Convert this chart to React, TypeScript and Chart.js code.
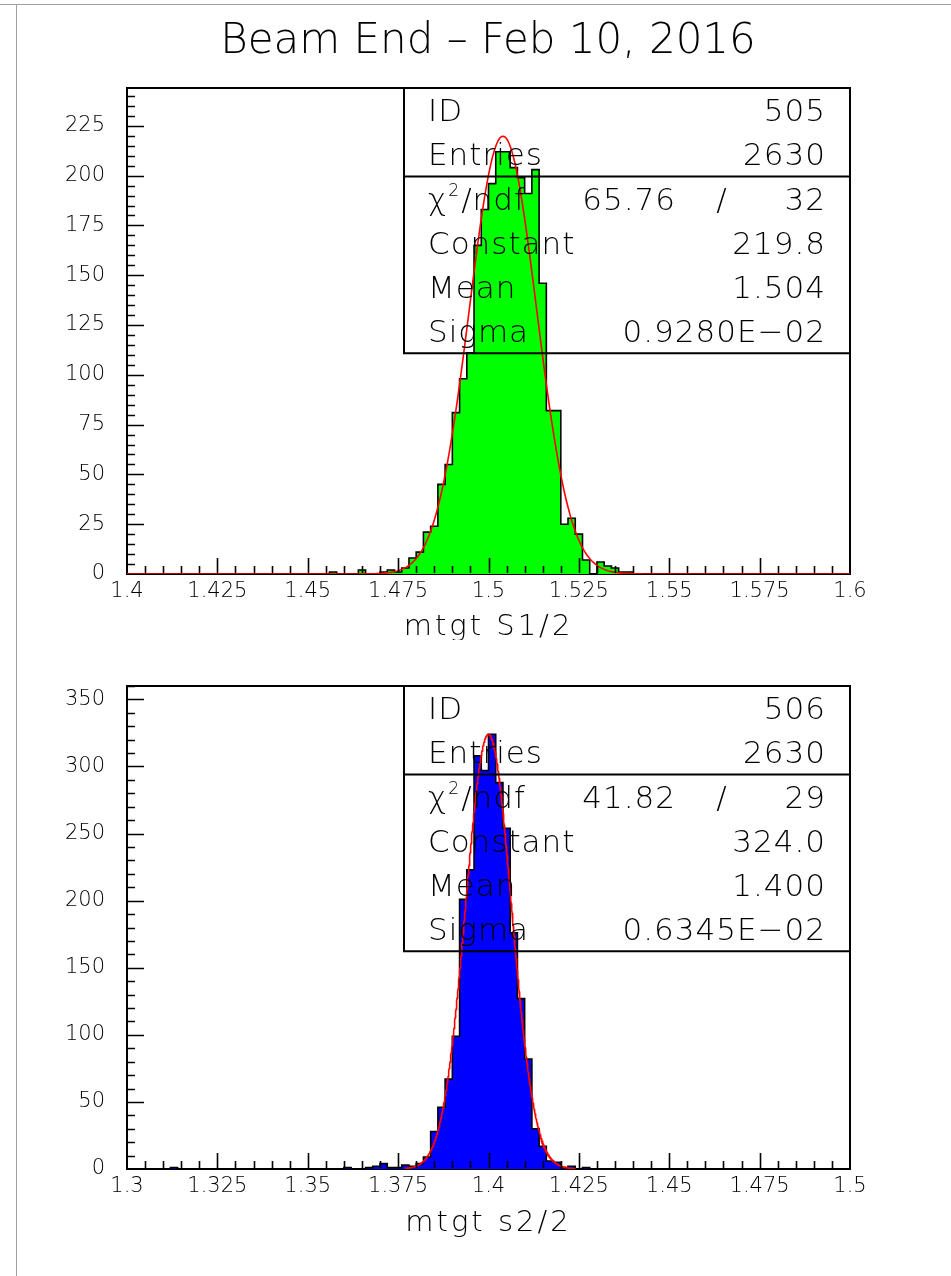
import React, { useEffect, useRef } from 'react';
import { Chart, registerables } from 'chart.js';

Chart.register(...registerables);

const PAGE_W = 951;
const FONT_FAMILY = "'DejaVu Sans'";
const pageTitle = 'Beam End – Feb 10, 2016';

// ---- Histogram 505 : mtgt S1/2 (100 bins of 0.002 between 1.4 and 1.6)
const s1Range = [1.4, 1.6];
const s1BinCount = 100;
const s1FirstBin = 28; // bin index of the first entry in s1Counts
const s1Counts = [
  1, 0, 0, 0, 2, 0, 0, 1, 2, 1,
  3, 8, 11, 21, 24, 45, 55, 81, 98, 111,
  165, 183, 196, 212, 212, 204, 199, 191, 203, 146,
  82, 82, 25, 28, 20, 7, 0, 6, 4, 3,
  1, 1,
];
const s1XTicks = [1.4, 1.425, 1.45, 1.475, 1.5, 1.525, 1.55, 1.575, 1.6];
const s1YTicks = [0, 25, 50, 75, 100, 125, 150, 175, 200, 225];
const s1YMax = 244;
const s1Id = '505';
const s1Entries = '2630';
const s1Chi2 = '65.76';
const s1Ndf = '32';
const s1Constant = 219.8;
const s1Mean = 1.504;
const s1Sigma = 0.928e-2;
const s1FitRange = [1.4, 1.6];

// ---- Histogram 506 : mtgt s2/2 (100 bins of 0.002 between 1.3 and 1.5)
const s2Range = [1.3, 1.5];
const s2BinCount = 100;
const s2FirstBin = 6;
const s2Counts = [
  1, 0, 0, 0, 0,
  0, 0, 0, 0, 0, 0, 0, 0, 0, 0,
  0, 0, 0, 0, 0, 0, 0, 0, 0,
  1, 0, 0, 1, 2, 4, 1, 1, 3, 2,
  4, 9, 28, 46, 67, 99, 201, 223, 308, 297,
  324, 288, 254, 176, 127, 82, 30, 17, 6, 5,
  1, 2, 0, 1,
];
const s2XTicks = [1.3, 1.325, 1.35, 1.375, 1.4, 1.425, 1.45, 1.475, 1.5];
const s2YTicks = [0, 50, 100, 150, 200, 250, 300, 350];
const s2YMax = 360;
const s2Id = '506';
const s2Entries = '2630';
const s2Chi2 = '41.82';
const s2Ndf = '29';
const s2Constant = 324.0;
const s2Mean = 1.4;
const s2Sigma = 0.6345e-2;
const s2FitRange = [1.377, 1.424];

type Pt = { x: number; y: number };

function histogramPoints(range: number[], nBins: number, first: number, counts: number[]): Pt[] {
  const width = (range[1] - range[0]) / nBins;
  const pts: Pt[] = [];
  for (let i = 0; i < nBins; i++) {
    const k = i - first;
    pts.push({ x: range[0] + i * width, y: k >= 0 && k < counts.length ? counts[k] : 0 });
  }
  pts.push({ x: range[1], y: 0 });
  return pts;
}

function gaussianPoints(constant: number, mean: number, sigma: number, range: number[]): Pt[] {
  const n = 600;
  const pts: Pt[] = [];
  for (let i = 0; i <= n; i++) {
    const x = range[0] + ((range[1] - range[0]) * i) / n;
    const z = (x - mean) / sigma;
    pts.push({ x, y: constant * Math.exp(-0.5 * z * z) });
  }
  return pts;
}

function paw(value: number): string {
  // PAW style exponent notation, e.g. 0.9280E-02
  const e = Math.floor(Math.log10(Math.abs(value))) + 1;
  const m = value / Math.pow(10, e);
  const sign = e < 0 ? '−' : '+';
  return `${m.toFixed(4)}E${sign}${String(Math.abs(e)).padStart(2, '0')}`;
}

function fmtTick(v: number): string {
  return String(parseFloat(v.toFixed(3)));
}

type PanelProps = {
  top: number;
  height: number;
  plotTop: number;
  plotBottom: number;
  range: number[];
  binCount: number;
  firstBin: number;
  counts: number[];
  fill: string;
  xTicks: number[];
  yTicks: number[];
  yMax: number;
  yMinorStep: number;
  yMajorStep: number;
  fitConstant: number;
  fitMean: number;
  fitSigma: number;
  fitRange: number[];
  id: string;
  entries: string;
  chi2: string;
  ndf: string;
  axisTitle: string;
  axisTitleBaseline: number;
  pageTitle?: string;
};

function HistogramPanel(p: PanelProps) {
  const ref = useRef<HTMLCanvasElement>(null);

  useEffect(() => {
    const canvas = ref.current;
    if (!canvas) return;
    const tickFont = { family: FONT_FAMILY, size: 21, weight: 200 as any };

    const decor = {
      id: 'pawDecor',
      beforeDatasetsDraw(chart: any) {
        const { ctx, chartArea: a } = chart;
        ctx.save();
        ctx.strokeStyle = '#000';
        ctx.lineWidth = 2;
        ctx.strokeRect(a.left, a.top, a.right - a.left, a.bottom - a.top);
        ctx.restore();
      },
      afterDraw(chart: any) {
        const { ctx, chartArea: a, scales } = chart;
        const xs = scales.x;
        const ys = scales.y;
        ctx.save();
        ctx.strokeStyle = '#000';
        ctx.fillStyle = '#000';

        // x ticks (inward): minor every 0.005, major every 0.025
        ctx.lineWidth = 1.6;
        ctx.beginPath();
        const nx = Math.round((p.range[1] - p.range[0]) / 0.005);
        for (let i = 1; i < nx; i++) {
          const px = Math.round(xs.getPixelForValue(p.range[0] + i * 0.005)) + 0.5;
          const len = i % 5 === 0 ? 16 : 8;
          ctx.moveTo(px, a.bottom - 1);
          ctx.lineTo(px, a.bottom - len);
        }
        // y ticks (inward)
        const ny = Math.floor(p.yMax / p.yMinorStep);
        const ratio = Math.round(p.yMajorStep / p.yMinorStep);
        for (let i = 1; i <= ny; i++) {
          const py = Math.round(ys.getPixelForValue(i * p.yMinorStep)) + 0.5;
          const len = i % ratio === 0 ? 17 : 8;
          ctx.moveTo(a.left + 1, py);
          ctx.lineTo(a.left + len, py);
        }
        ctx.stroke();

        // axis title
        ctx.font = `200 29px ${FONT_FAMILY}`;
        (ctx as any).letterSpacing = '3px';
        ctx.textAlign = 'center';
        ctx.textBaseline = 'alphabetic';
        ctx.fillText(p.axisTitle, (a.left + a.right) / 2, p.axisTitleBaseline);

        // page title
        if (p.pageTitle) {
          ctx.font = `200 42px ${FONT_FAMILY}`;
          (ctx as any).letterSpacing = '0px';
          ctx.fillText(p.pageTitle, 488, 53);
        }

        // statistics box
        const boxL = 404;
        const boxR = a.right;
        const rowH = 44.2;
        const bTop = a.top;
        const bDiv = bTop + 2 * rowH;
        const bBot = bTop + 6 * rowH;
        ctx.lineWidth = 2;
        ctx.beginPath();
        ctx.moveTo(boxL, bTop);
        ctx.lineTo(boxL, bBot);
        ctx.lineTo(boxR, bBot);
        ctx.moveTo(boxL, bDiv);
        ctx.lineTo(boxR, bDiv);
        ctx.stroke();

        (ctx as any).letterSpacing = '1px';
        const labelX = boxL + 24;
        const valueX = boxR - 24;
        const base = (k: number) => bTop + rowH * (k + 0.5) + 11;
        const font = `200 31px ${FONT_FAMILY}`;
        ctx.font = font;
        const rows: [string, string][] = [
          ['ID', p.id],
          ['Entries', p.entries],
          ['', ''],
          ['Constant', p.fitConstant.toFixed(1)],
          ['Mean', p.fitMean.toFixed(3)],
          ['Sigma', paw(p.fitSigma)],
        ];
        rows.forEach(([label, value], k) => {
          if (!label) return;
          ctx.textAlign = 'left';
          ctx.fillText(label, labelX, base(k));
          ctx.textAlign = 'right';
          ctx.fillText(value, valueX, base(k));
        });
        // chi-square / ndf row
        const yb = base(2);
        ctx.textAlign = 'left';
        ctx.fillText('χ', labelX, yb);
        const wChi = ctx.measureText('χ').width;
        ctx.font = `200 17px ${FONT_FAMILY}`;
        ctx.fillText('2', labelX + wChi + 1, yb - 14);
        const w2 = ctx.measureText('2').width;
        ctx.font = font;
        ctx.fillText('/ndf', labelX + wChi + w2 + 2, yb);
        ctx.textAlign = 'right';
        ctx.fillText(p.chi2, boxR - 174, yb);
        ctx.textAlign = 'center';
        ctx.fillText('/', boxR - 128, yb);
        ctx.textAlign = 'right';
        ctx.fillText(p.ndf, valueX, yb);

        ctx.restore();
      },
    };

    const chart = new Chart(canvas, {
      type: 'line',
      data: {
        datasets: [
          {
            label: 'fit',
            data: gaussianPoints(p.fitConstant, p.fitMean, p.fitSigma, p.fitRange),
            borderColor: '#ff0000',
            borderWidth: 1.6,
            pointRadius: 0,
            fill: false,
            tension: 0,
            order: 0,
          },
          {
            label: 'histogram',
            data: histogramPoints(p.range, p.binCount, p.firstBin, p.counts),
            stepped: true,
            borderColor: '#000',
            borderWidth: 1.6,
            backgroundColor: p.fill,
            fill: 'origin',
            pointRadius: 0,
            order: 1,
          },
        ] as any,
      },
      options: {
        responsive: false,
        animation: false,
        devicePixelRatio: 1,
        events: [],
        layout: { padding: { top: p.plotTop, right: PAGE_W - 850, left: 0, bottom: 0 } },
        plugins: {
          legend: { display: false },
          tooltip: { enabled: false },
          title: { display: false },
        },
        scales: {
          x: {
            type: 'linear',
            min: p.range[0],
            max: p.range[1],
            grid: { display: false, drawTicks: false },
            border: { display: false },
            afterFit: (s: any) => {
              s.height = p.height - p.plotBottom;
            },
            afterBuildTicks: (s: any) => {
              s.ticks = p.xTicks.map((v) => ({ value: v }));
            },
            ticks: {
              autoSkip: false,
              maxRotation: 0,
              padding: 5,
              color: '#000',
              font: tickFont,
              callback: (v: any) => fmtTick(Number(v)),
            },
          },
          y: {
            type: 'linear',
            min: 0,
            max: p.yMax,
            grid: { display: false, drawTicks: false },
            border: { display: false },
            afterFit: (s: any) => {
              s.width = 127;
            },
            afterBuildTicks: (s: any) => {
              s.ticks = p.yTicks.map((v) => ({ value: v }));
            },
            ticks: {
              padding: 22,
              color: '#000',
              font: tickFont,
              callback: (v: any) => String(v),
            },
          },
        },
      } as any,
      plugins: [decor],
    });
    return () => chart.destroy();
  }, []);

  return (
    <canvas
      ref={ref}
      width={PAGE_W}
      height={p.height}
      style={{ position: 'absolute', left: 0, top: p.top, width: PAGE_W, height: p.height }}
    />
  );
}

export default function App() {
  return (
    <div
      style={{
        position: 'absolute',
        left: 0,
        top: 0,
        width: PAGE_W,
        height: 1276,
        background: '#fff',
        overflow: 'hidden',
      }}
    >
      <div style={{ position: 'absolute', left: 0, top: 4, width: PAGE_W, height: 1, background: '#a0a0a0' }} />
      <div style={{ position: 'absolute', left: 16, top: 4, width: 1, height: 1272, background: '#a0a0a0' }} />
      <HistogramPanel
        top={0}
        height={640}
        plotTop={88}
        plotBottom={574}
        range={s1Range}
        binCount={s1BinCount}
        firstBin={s1FirstBin}
        counts={s1Counts}
        fill="#00ff00"
        xTicks={s1XTicks}
        yTicks={s1YTicks}
        yMax={s1YMax}
        yMinorStep={5}
        yMajorStep={25}
        fitConstant={s1Constant}
        fitMean={s1Mean}
        fitSigma={s1Sigma}
        fitRange={s1FitRange}
        id={s1Id}
        entries={s1Entries}
        chi2={s1Chi2}
        ndf={s1Ndf}
        axisTitle="mtgt S1/2"
        axisTitleBaseline={635}
        pageTitle={pageTitle}
      />
      <HistogramPanel
        top={640}
        height={636}
        plotTop={46}
        plotBottom={529}
        range={s2Range}
        binCount={s2BinCount}
        firstBin={s2FirstBin}
        counts={s2Counts}
        fill="#0000ff"
        xTicks={s2XTicks}
        yTicks={s2YTicks}
        yMax={s2YMax}
        yMinorStep={10}
        yMajorStep={50}
        fitConstant={s2Constant}
        fitMean={s2Mean}
        fitSigma={s2Sigma}
        fitRange={s2FitRange}
        id={s2Id}
        entries={s2Entries}
        chi2={s2Chi2}
        ndf={s2Ndf}
        axisTitle="mtgt s2/2"
        axisTitleBaseline={591}
      />
    </div>
  );
}
